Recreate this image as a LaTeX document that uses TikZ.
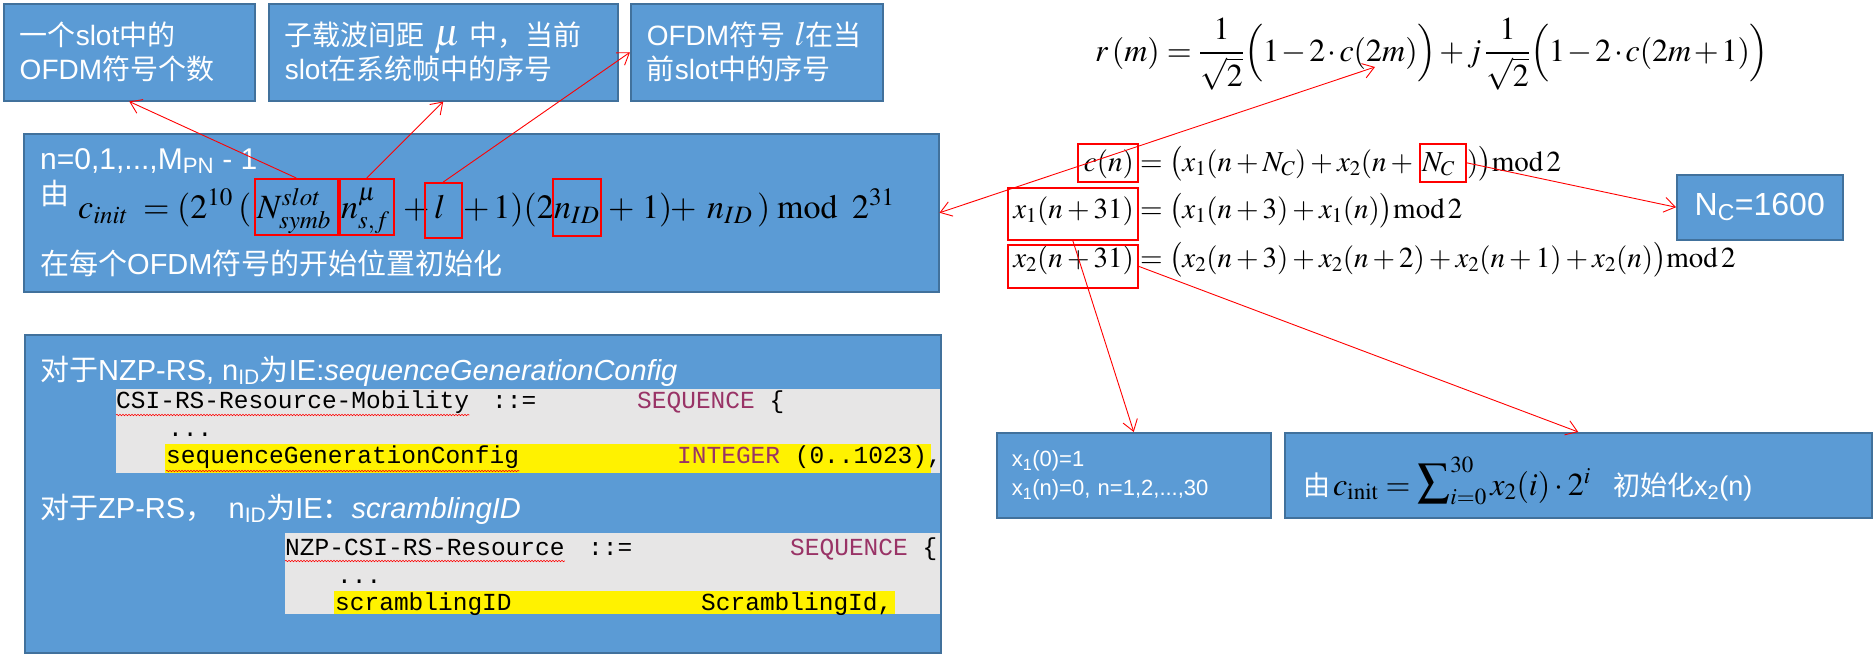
\documentclass[tikz,border=0pt]{standalone}
\usepackage{amsmath}
\usepackage{mathptmx}
\usepackage[no-math]{fontspec}
\usetikzlibrary{arrows.meta,positioning,decorations.pathmorphing}

\newfontfamily\enfont{Liberation Sans}
\newfontfamily\zhfont{Noto Sans CJK SC}
\newfontfamily\codefont{Liberation Mono}
\newcommand\zh[1]{{\zhfont #1}}
\newcommand\bigsum{\mathop{\hbox{\fontsize{46}{46}\selectfont$\sum$}}\nolimits}

\DeclareMathSizes{29}{29}{21}{15}
\DeclareMathSizes{32}{32}{23}{17}
\DeclareMathSizes{34}{34}{25}{18}

\definecolor{boxfill}{RGB}{91,155,213}
\definecolor{boxline}{RGB}{65,113,156}
\definecolor{codebg}{RGB}{231,230,230}
\definecolor{kwcol}{RGB}{153,51,102}

\tikzset{
  bluebox/.style={draw=boxline, fill=boxfill, line width=1.5pt, text=white, align=left,
    anchor=north west, inner xsep=16pt, font=\enfont\fontsize{28}{34}\selectfont},
  hl/.style={draw=red, line width=1.6pt, inner sep=0pt, anchor=north west},
  eq/.style={inner sep=0pt, anchor=base west, font=\fontsize{34}{40}\selectfont},
  req/.style={inner sep=0pt, anchor=base west, font=\fontsize{29}{34}\selectfont},
  wtext/.style={inner sep=0pt, anchor=base west, text=white, font=\enfont\fontsize{29}{34}\selectfont},
  code/.style={inner sep=0pt, anchor=base west, font=\codefont\fontsize{24.5}{28}\selectfont},
  redarr/.style={draw=red, line width=0.9pt, -{Straight Barb[length=11pt,width=15pt]}},
  redboth/.style={draw=red, line width=0.9pt, {Straight Barb[length=11pt,width=15pt]}-{Straight Barb[length=11pt,width=15pt]}},
  wavy/.style={draw=red, line width=0.6pt, decorate, decoration={snake, amplitude=0.7pt, segment length=3pt}},
}

\begin{document}
\begin{tikzpicture}[x=1pt, y=-1pt]
    \useasboundingbox (0,0) rectangle (1873,653);
    % Top boxes
    \node[bluebox, minimum width=251pt, minimum height=97pt, text width=219pt] (slotnum) at (3,3)
        {\zh{一个}slot\zh{中的}\\OFDM\zh{符号个数}};
    \node[bluebox, minimum width=349pt, minimum height=97pt, text width=317pt] (slotidx) at (268,3)
        {\zh{子载波间距} {\fontsize{38}{34}\selectfont$\mu$} \zh{中，当前}\\slot\zh{在系统帧中的序号}};
    \node[bluebox, minimum width=252pt, minimum height=97pt, text width=220pt] (symidx) at (630,3)
        {OFDM\zh{符号} {\fontsize{34}{34}\selectfont$l$}\zh{在当}\\\zh{前}slot\zh{中的序号}};
    % c_init box
    \node[bluebox, minimum width=915pt, minimum height=158pt] (cinitbox) at (23,133) {};
    \node[wtext, font=\enfont\fontsize{30}{34}\selectfont] (nrange) at (40,169) {n=0,1,...,M\textsubscript{PN} - 1};
    \node[wtext] (you) at (40,204) {\zh{由}};
    \node[wtext] (initat) at (40,274) {\zh{在每个}OFDM\zh{符号的开始位置初始化}};
    \node[eq] (f1) at (78,218) {$c_{init}$};
    \node[eq] (f2) at (143,218) {$=$};
    \node[eq] (f3) at (177,218) {$(2^{10}$};
    \node[eq] (f4) at (238,218) {$($};
    \node[eq] (f5) at (257,218) {$N^{slot}_{symb}$};
    \node[eq] (f6) at (341,218) {$n^{\mu}_{s,f}$};
    \node[eq] (f7) at (403,218) {$+$};
    \node[eq] (f8) at (434,218) {$l$};
    \node[eq] (f9) at (463,218) {$+\,1)(2$};
    \node[eq] (f10) at (554,218) {$n_{ID}$};
    \node[eq] (f11) at (608,218) {$+\;1)$};
    \node[eq] (f12) at (670,218) {$+$};
    \node[eq] (f13) at (707,218) {$n_{ID}$};
    \node[eq] (f14) at (757,218) {$)$};
    \node[eq] (f15) at (777,218) {$\mathrm{mod}$};
    \node[eq] (f16) at (852,218) {$2^{31}$};
    \node[hl, minimum width=83pt, minimum height=56pt] (nslot) at (254,178) {};
    \node[hl, minimum width=54pt, minimum height=56pt] (nmu) at (339,178) {};
    \node[hl, minimum width=37pt, minimum height=55pt] (lbox) at (424,182) {};
    \node[hl, minimum width=48pt, minimum height=57pt] (nid) at (552,178) {};
    % NZP / ZP box
    \node[bluebox, minimum width=916pt, minimum height=318pt] (nzpbox) at (24,334) {};
    \node[wtext] (nzpline) at (40,380)
        {\zh{对于}NZP-RS, n\textsubscript{ID}\zh{为}IE:\textit{sequenceGenerationConfig}};
    \node[wtext] (zpline) at (40,518)
        {\zh{对于}ZP-RS\zh{，}\enspace n\textsubscript{ID}\zh{为}IE\zh{：}\textit{scramblingID}};
    \begin{scope}
        \clip (24,334) rectangle (940,652);
        \fill[codebg] (116,389) rectangle (940,473);
        \fill[yellow] (165,444) rectangle (931,473);
        \node[code] (csi) at (116,408) {CSI-RS-Resource-Mobility};
        \node[code] (csiop) at (492,408) {::=};
        \node[code] (seq1) at (637,408) {\textcolor{kwcol}{SEQUENCE} \{};
        \node[code] (dots1) at (168,436) {...};
        \node[code] (sgc) at (166,463) {sequenceGenerationConfig};
        \node[code] (int1) at (677,463) {\textcolor{kwcol}{INTEGER} (0..1023),};
        \fill[codebg] (285,533) rectangle (940,614);
        \fill[yellow] (334,591) rectangle (895,614);
        \node[code] (nzpres) at (285,555) {NZP-CSI-RS-Resource};
        \node[code] (nzpop) at (588,555) {::=};
        \node[code] (seq2) at (790,555) {\textcolor{kwcol}{SEQUENCE} \{};
        \node[code] (dots2) at (337,583) {...};
        \node[code] (scid) at (335,610) {scramblingID};
        \node[code] (sctype) at (701,610) {ScramblingId,};
    \end{scope}
    \draw[wavy] ([yshift=-7pt]csi.base west) -- ([yshift=-7pt]csi.base east);
    \draw[wavy] ([yshift=-8pt]sgc.base west) -- ([yshift=-8pt]sgc.base east);
    \draw[wavy] ([yshift=-6pt]nzpres.base west) -- ([yshift=-6pt]nzpres.base east);
    % Right side equations
    \node[eq, font=\fontsize{32}{40}\selectfont] (rm) at (1095,61)
        {$\medmuskip=1.5mu r\,(m)=\dfrac{1}{\sqrt{2}}\Bigl(1-2\cdot c(2m)\Bigr)+j\,\dfrac{1}{\sqrt{2}}\Bigl(1-2\cdot c(2m+1)\Bigr)$};
    \coordinate (c2m) at (1375,67);
    \node[req, anchor=base east] (cnl) at (1134,171) {$c(n)$};
    \node[req] (cnr) at (1140,171) {$=\bigl(x_1(n+N_C)+x_2(n+{}$};
    \node[req] (ncr) at (1422,171) {$N_C$};
    \node[req] (cnr2) at (1467,171) {$)\bigr)\mathrm{mod}\,2$};
    \node[req, anchor=base east] (x1l) at (1134,218) {$x_1(n+31)$};
    \node[req] (x1r) at (1140,218) {$=\bigl(x_1(n+3)+x_1(n)\bigr)\mathrm{mod}\,2$};
    \node[req, anchor=base east] (x2l) at (1134,267) {$x_2(n+31)$};
    \node[req] (x2r) at (1140,267) {$=\bigl(x_2(n+3)+x_2(n+2)+x_2(n+1)+x_2(n)\bigr)\mathrm{mod}\,2$};
    \node[hl, minimum width=60pt, minimum height=38pt] (cnbox) at (1077,143) {};
    \node[hl, minimum width=46pt, minimum height=38pt] (ncbox) at (1419,143) {};
    \node[hl, minimum width=130pt, minimum height=52pt] (x1box) at (1007,187) {};
    \node[hl, minimum width=130pt, minimum height=43pt] (x2box) at (1007,244) {};
    % Boxes on the right
    \node[bluebox, minimum width=166pt, minimum height=65pt, align=center, font=\enfont\fontsize{32}{36}\selectfont]
        (ncval) at (1676,174) {N\textsubscript{C}=1600};
    \node[bluebox, minimum width=274pt, minimum height=85pt, text width=244pt, inner xsep=15pt,
        font=\enfont\fontsize{22}{29}\selectfont] (x1init) at (996,432)
        {x\textsubscript{1}(0)=1\\x\textsubscript{1}(n)=0, n=1,2,...,30};
    \node[bluebox, minimum width=587pt, minimum height=85pt] (x2init) at (1284,432) {};
    \node[wtext, font=\enfont\fontsize{27}{32}\selectfont] (you2) at (1303,495) {\zh{由}};
    \node[eq, font=\fontsize{32}{38}\selectfont] (sumeq) at (1333,495)
        {$c_{\mathrm{init}} = \bigsum_{i=0}^{30} x_2(i)\cdot 2^{i}$};
    \node[wtext, font=\enfont\fontsize{27}{32}\selectfont] (x2text) at (1613,495) {\zh{初始化}x\textsubscript{2}(n)};
    % Connectors
    \draw[redarr] (nslot.north) -- (slotnum.south);
    \draw[redarr] (nmu.north) -- (slotidx.south);
    \draw[redarr] (lbox.north) -- (symidx.west);
    \draw[redboth] (cinitbox.east) -- (c2m);
    \draw[redarr] (ncbox.east) -- (ncval.west);
    \draw[redarr] (x1box.south) -- (x1init.north);
    \draw[redarr] (x2box.east) -- (x2init.north);
\end{tikzpicture}
\end{document}
